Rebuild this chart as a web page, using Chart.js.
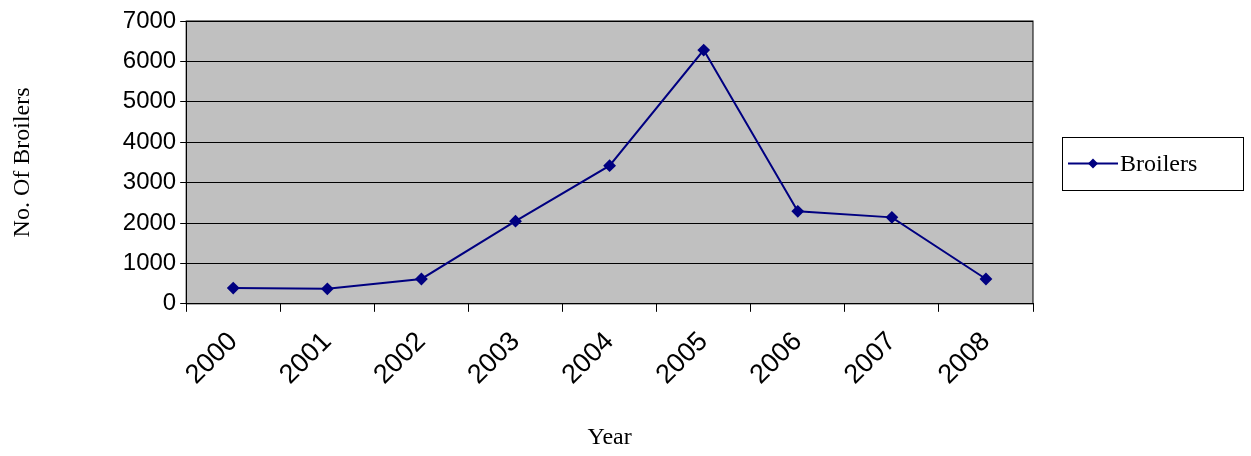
<!DOCTYPE html>
<html>
<head>
<meta charset="utf-8">
<script src="https://cdn.jsdelivr.net/npm/chart.js@4"></script>
<style>
  body { margin: 0; background: #fff; }
  #wrap { width: 1251px; height: 456px; }
</style>
</head>
<body>
<div id="wrap"><canvas id="lineChart"></canvas></div>
<script>
const years = ['2000', '2001', '2002', '2003', '2004', '2005', '2006', '2007', '2008'];
const broilers = [390, 370, 615, 2045, 3420, 6280, 2290, 2140, 615];
const yTicks = [0, 1000, 2000, 3000, 4000, 5000, 6000, 7000];

// grey plot area with black border, plus a boxed legend on the right
const plotBg = {
   id: 'plotBg',
   beforeDraw(chart) {
      const { ctx, chartArea: a } = chart;
      ctx.save();
      ctx.fillStyle = '#c0c0c0';
      ctx.fillRect(a.left, a.top, a.right - a.left, a.bottom - a.top);
      ctx.restore();
   },
   afterDraw(chart) {
      const { ctx, chartArea: a } = chart;
      const ds = chart.data.datasets[0];
      ctx.save();
      ctx.strokeStyle = '#000';
      ctx.lineWidth = 1;
      ctx.strokeRect(a.left, a.top, a.right - a.left, a.bottom - a.top);
      // legend
      const lx = 1062, ly = 137, lw = 181, lh = 53;
      ctx.strokeRect(lx + 0.5, ly + 0.5, lw, lh);
      const cy = ly + lh / 2;
      ctx.strokeStyle = ds.borderColor;
      ctx.lineWidth = 2;
      ctx.beginPath();
      ctx.moveTo(lx + 6, cy);
      ctx.lineTo(lx + 56, cy);
      ctx.stroke();
      ctx.fillStyle = ds.borderColor;
      ctx.beginPath();
      ctx.moveTo(lx + 31, cy - 5);
      ctx.lineTo(lx + 36, cy);
      ctx.lineTo(lx + 31, cy + 5);
      ctx.lineTo(lx + 26, cy);
      ctx.closePath();
      ctx.fill();
      ctx.fillStyle = '#000';
      ctx.font = '24px "Liberation Serif"';
      ctx.textBaseline = 'middle';
      ctx.fillText(ds.label, lx + 58, cy + 1);
      ctx.restore();
   }
};

new Chart(document.getElementById('lineChart'), {
   type: 'line',
   data: {
      labels: years,
      datasets: [{
         label: 'Broilers',
         data: broilers,
         borderColor: '#000080',
         backgroundColor: '#000080',
         borderWidth: 2,
         pointStyle: 'rectRot',
         pointRadius: 5,
         tension: 0
      }]
   },
   plugins: [plotBg],
   options: {
      responsive: true,
      maintainAspectRatio: false,
      animation: false,
      layout: { padding: { top: 21, right: 218, left: 4, bottom: 0 } },
      plugins: {
         legend: { display: false },
         tooltip: { enabled: false }
      },
      scales: {
         x: {
            offset: true,
            grid: { offset: true, drawOnChartArea: false, color: '#000', tickLength: 8 },
            border: { color: '#000' },
            ticks: {
               color: '#000',
               maxRotation: 45, minRotation: 45,
               padding: 14,
               font: { family: 'Liberation Sans', size: 27 }
            },
            title: {
               display: true, text: 'Year', color: '#000',
               padding: { top: 18 },
               font: { family: 'Liberation Serif', size: 24 }
            }
         },
         y: {
            min: 0, max: 7000,
            afterBuildTicks(axis) { axis.ticks = yTicks.map(v => ({ value: v })); },
            grid: { color: '#000', tickLength: 6 },
            border: { color: '#000' },
            ticks: {
               color: '#000',
               padding: 4,
               callback: v => String(v),
               font: { family: 'Liberation Sans', size: 24 }
            },
            title: {
               display: true, text: 'No. Of Broilers', color: '#000',
               padding: { bottom: 82 },
               font: { family: 'Liberation Serif', size: 24 }
            }
         }
      }
   }
});
</script>
</body>
</html>
